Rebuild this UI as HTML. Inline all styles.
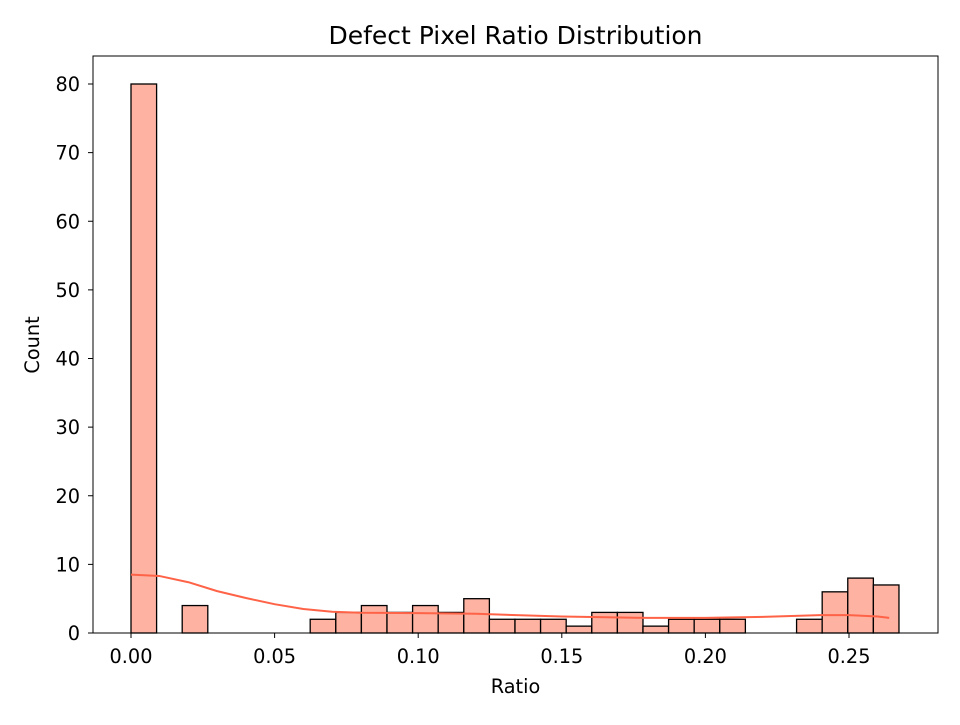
<!DOCTYPE html>
<html><head><meta charset="utf-8"><style>
body{margin:0;background:#fff;}
svg text{font-family:"DejaVu Sans","Liberation Sans",sans-serif;fill:#000;}
</style></head><body>
<svg id="chart" width="960" height="720" xmlns="http://www.w3.org/2000/svg">
<text x="515.5" y="44" style="font-size:25px" text-anchor="middle">Defect Pixel Ratio Distribution</text>
<text x="515.5" y="693" style="font-size:19.3px" text-anchor="middle">Ratio</text>
<text transform="translate(39,345) rotate(-90)" style="font-size:19.3px" text-anchor="middle">Count</text>
<g id="bars"></g><g id="kde"></g><g id="axes"></g>
</svg>
<script>
const counts=[80,0,4,0,0,0,0,2,3,4,3,4,3,5,2,2,2,1,3,3,1,2,2,2,0,0,2,6,8,7];
const kdeX=[0,0.01,0.02,0.03,0.04,0.05,0.06,0.07,0.08,0.1,0.12,0.15,0.18,0.2,0.22,0.24,0.25,0.26,0.264];
const kdeY=[8.5,8.3,7.4,6.1,5.1,4.2,3.5,3.1,2.95,2.9,2.8,2.4,2.2,2.2,2.35,2.6,2.6,2.4,2.2];
const xTicks=[0,0.05,0.1,0.15,0.2,0.25];
const xTickLabels=["0.00","0.05","0.10","0.15","0.20","0.25"];
const yTicks=[0,10,20,30,40,50,60,70,80];
const binMin=0, binMax=0.2674;
const L=93,R=938,T=56,B=633;
const xs=v=>131+v*2872;
const ys=v=>633-v*6.8625;
const NS="http://www.w3.org/2000/svg";
function mk(t,a,p){const e=document.createElementNS(NS,t);for(const k in a)e.setAttribute(k,a[k]);p.appendChild(e);return e;}
const bw=(binMax-binMin)/counts.length;
const gb=document.getElementById('bars');
counts.forEach((c,i)=>{if(c<=0)return;
const x0=xs(binMin+i*bw),x1=xs(binMin+(i+1)*bw);
const r=mk('rect',{x:x0,y:ys(c),width:x1-x0,height:ys(0)-ys(c),fill:'#fdb2a2',stroke:'#000','stroke-width':1.3},gb);

});
let d=kdeX.map((x,i)=>(i?'L':'M')+xs(x)+','+ys(kdeY[i])).join(' ');
const p=mk('path',{d:d,fill:'none',stroke:'#ff6347','stroke-width':2,'stroke-linejoin':'round'},document.getElementById('kde'));


const ga=document.getElementById('axes');
const fr=mk('rect',{x:L,y:T,width:R-L,height:B-T,fill:'none',stroke:'#000','stroke-width':1},ga);


xTicks.forEach((v,i)=>{const x=xs(v);
mk('line',{x1:x,x2:x,y1:B,y2:B+5,stroke:'#000'},ga);
const t=mk('text',{x:x,y:B+30,'text-anchor':'middle',style:'font-size:19.3px'},ga);t.textContent=xTickLabels[i];

});
yTicks.forEach(v=>{const y=ys(v);
mk('line',{x1:L-5,x2:L,y1:y,y2:y,stroke:'#000'},ga);
const t=mk('text',{x:L-13,y:y+7,'text-anchor':'end',style:'font-size:19.3px'},ga);t.textContent=v;

});
</script>
</body></html>
